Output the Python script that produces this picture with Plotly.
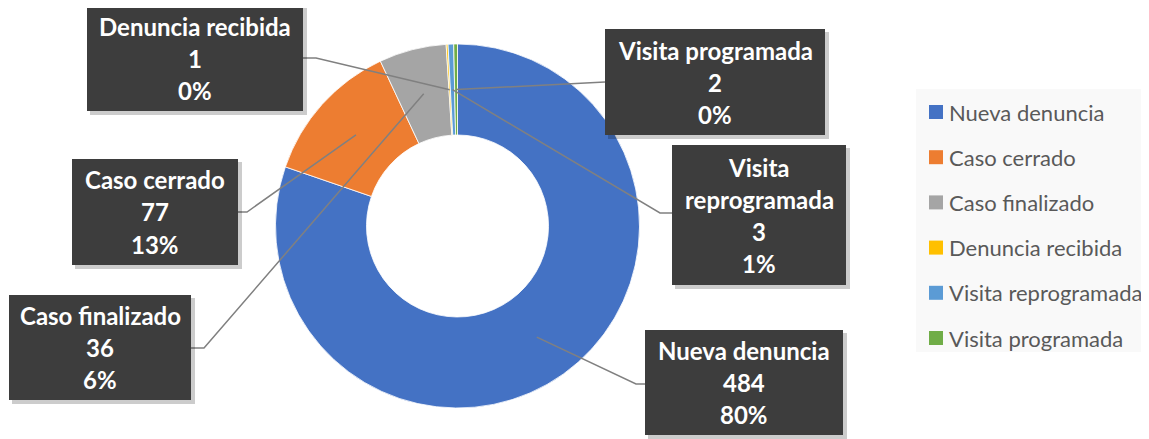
import math
import plotly.graph_objects as go

# ---- data ----
categories = ["Nueva denuncia", "Caso cerrado", "Caso finalizado",
              "Denuncia recibida", "Visita reprogramada", "Visita programada"]
values = [484, 77, 36, 1, 3, 2]
percent_labels = ["80%", "13%", "6%", "0%", "1%", "0%"]
colors = ["#4472C4", "#ED7D31", "#A5A5A5", "#FFC000", "#5B9BD5", "#70AD47"]
label_lines = {
    "Nueva denuncia": ["Nueva denuncia"],
    "Caso cerrado": ["Caso cerrado"],
    "Caso finalizado": ["Caso finalizado"],
    "Denuncia recibida": ["Denuncia recibida"],
    "Visita reprogramada": ["Visita", "reprogramada"],
    "Visita programada": ["Visita programada"],
}

# ---- layout (page pixels) ----
PAGE_W, PAGE_H = 1149, 439
OFF = 8  # default body margin of the page
W, H = PAGE_W - OFF, PAGE_H - OFF
CX, CY, R = 457.5, 226, 182
HOLE = 0.5

boxes = {
    "Denuncia recibida": (87, 5, 303, 111),
    "Visita programada": (605, 29, 825, 135),
    "Visita reprogramada": (672, 145, 846, 285),
    "Caso cerrado": (72, 159, 238, 265),
    "Caso finalizado": (9, 295, 191, 400),
    "Nueva denuncia": (645, 330, 843, 435),
}
leader = {
    "Denuncia recibida": [(303, 58), (316, 58)],
    "Visita programada": [(605, 82)],
    "Visita reprogramada": [(672, 213), (660, 213)],
    "Caso cerrado": [(238, 212), (247, 212)],
    "Caso finalizado": [(191, 348), (204, 348)],
    "Nueva denuncia": [(645, 384), (636, 384)],
}
LINE_H = 32


def px(x):
    return (x - OFF) / W


def py(y):
    return 1 - (y - OFF) / H


fig = go.Figure()
fig.add_trace(go.Pie(
    labels=categories, values=values, hole=HOLE, sort=False,
    direction="clockwise", rotation=0,
    marker=dict(colors=colors, line=dict(color="white", width=0.8)),
    textinfo="none", showlegend=False, hoverinfo="label+value+percent",
    domain=dict(x=[px(CX - R), px(CX + R)], y=[py(CY + R), py(CY - R)]),
))

shapes = []
annotations = []
total = sum(values)
cum = 0
mid_r = R * (1 + HOLE) / 2
for cat, v, col, pct in zip(categories, values, colors, percent_labels):
    mid = (cum + v / 2) / total * 2 * math.pi
    cum += v
    ax_ = CX + mid_r * math.sin(mid)
    ay_ = CY - mid_r * math.cos(mid)
    pts = leader[cat] + [(ax_, ay_)]
    path = "M " + " L ".join(f"{px(x):.5f},{py(y):.5f}" for x, y in pts)
    shapes.append(dict(type="path", xref="paper", yref="paper", path=path,
                       line=dict(color="#808080", width=1.5), layer="above"))
    x0, y0, x1, y1 = boxes[cat]
    shapes.append(dict(type="rect", xref="paper", yref="paper",
                       x0=px(x0 + 3), x1=px(x1 + 4), y0=py(y0 + 3), y1=py(y1 + 4),
                       fillcolor="rgba(0,0,0,0.20)", line=dict(width=0), layer="above"))
    shapes.append(dict(type="rect", xref="paper", yref="paper",
                       x0=px(x0), x1=px(x1), y0=py(y0), y1=py(y1),
                       fillcolor="#3d3d3d", line=dict(width=0), layer="above"))
    lines = label_lines[cat] + [f"{v}", pct]
    n = len(lines)
    yc = (y0 + y1) / 2
    for i, t in enumerate(lines):
        ty = yc + (i - (n - 1) / 2) * LINE_H
        annotations.append(dict(x=px((x0 + x1) / 2), y=py(ty), xref="paper", yref="paper",
                                text=f"<b>{t}</b>", showarrow=False,
                                xanchor="center", yanchor="middle",
                                font=dict(family="Lato", size=24, color="white")))

# legend (manual)
LEG_BOX = (916, 89, 1160, 352)
shapes.append(dict(type="rect", xref="paper", yref="paper",
                   x0=px(LEG_BOX[0]), x1=px(LEG_BOX[2]), y0=py(LEG_BOX[1]), y1=py(LEG_BOX[3]),
                   fillcolor="#f9f9f9", line=dict(width=0), layer="below"))
leg_y0, leg_dy = 112, 45.2
for i, (cat, col) in enumerate(zip(categories, colors)):
    yy = leg_y0 + i * leg_dy
    shapes.append(dict(type="rect", xref="paper", yref="paper",
                       x0=px(929), x1=px(943), y0=py(yy - 7), y1=py(yy + 7),
                       fillcolor=col, line=dict(width=0)))
    annotations.append(dict(x=px(947), y=py(yy), xref="paper", yref="paper",
                            text=cat, showarrow=False, xanchor="left", yanchor="middle",
                            font=dict(family="Lato", size=22, color="#595959")))

fig.update_layout(
    width=W, height=H, margin=dict(l=0, r=0, t=0, b=0),
    paper_bgcolor="white", plot_bgcolor="white",
    shapes=shapes, annotations=annotations, showlegend=False,
)
fig.write_html("out.html")
